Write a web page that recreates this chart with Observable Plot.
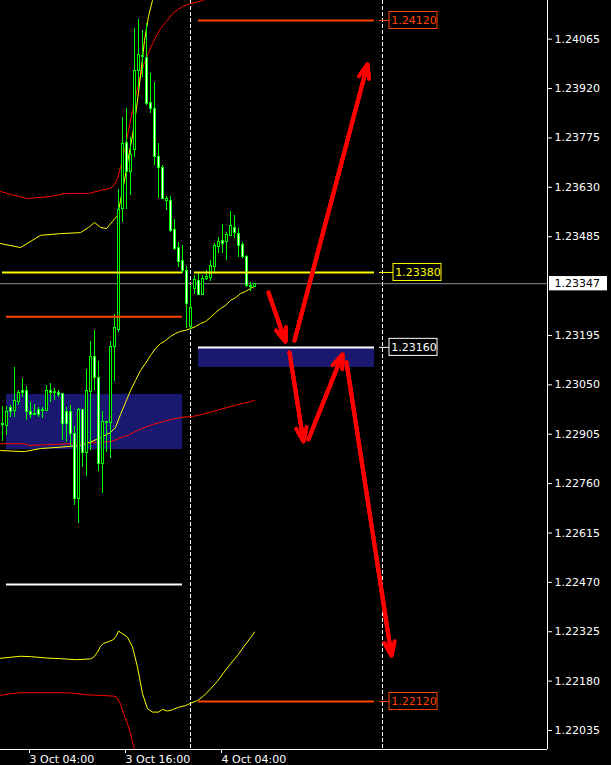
<!DOCTYPE html>
<html><head><meta charset="utf-8">
<script src="https://cdn.jsdelivr.net/npm/d3@7"></script>
<script src="https://cdn.jsdelivr.net/npm/@observablehq/plot@0.6"></script>
<style>
html,body{margin:0;padding:0;background:#000;}
#chart svg{display:block;}
</style></head><body><div id="chart"></div>
<script>
// ---- DATA (prices; times in hours since 3 Oct 00:00) ----
const barFirstHour = 0.5, barStepHour = 0.5; // M30 bars
const open = [1.22934,1.22928,1.22981,1.22972,1.23001,1.23033,1.23033,1.22969,1.22963,1.22975,
1.22975,1.22972,1.23033,1.23027,1.23027,1.23022,1.22969,1.22969,1.22907,1.22716,
1.22975,1.22851,1.23030,1.23133,1.23069,1.22819,1.22942,1.22939,1.23160,1.23210,
1.23565,1.23759,1.23676,1.23741,1.23973,1.24017,1.24011,1.23879,1.23859,1.23718,
1.23688,1.23591,1.23591,1.23506,1.23453,1.23415,1.23383,1.23221,1.23330,1.23356,
1.23315,1.23362,1.23365,1.23395,1.23456,1.23471,1.23468,1.23486,1.23512,1.23494,
1.23462,1.23424,1.23339,1.23336];
const high = [1.22986,1.22986,1.22989,1.23101,1.23033,1.23069,1.23045,1.22998,1.22992,1.22983,
1.22983,1.23048,1.23054,1.23039,1.23033,1.23025,1.22983,1.22989,1.22928,1.22981,
1.22978,1.23095,1.23177,1.23210,1.23119,1.22972,1.22942,1.23177,1.23257,1.23624,
1.23835,1.23862,1.23776,1.24096,1.24123,1.24091,1.24111,1.23964,1.23938,1.23759,
1.23694,1.23603,1.23603,1.23536,1.23468,1.23459,1.23398,1.23342,1.23371,1.23380,
1.23371,1.23386,1.23415,1.23465,1.23483,1.23521,1.23497,1.23559,1.23547,1.23509,
1.23468,1.23430,1.23350,1.23348];
const low = [1.22884,1.22901,1.22954,1.22954,1.22989,1.23013,1.22945,1.22951,1.22960,1.22954,
1.22951,1.22972,1.22998,1.23004,1.23013,1.22887,1.22881,1.22866,1.22696,1.22643,
1.22807,1.22781,1.22857,1.23033,1.22796,1.22731,1.22851,1.22834,1.23060,1.23204,
1.23527,1.23565,1.23606,1.23718,1.23914,1.23952,1.23870,1.23847,1.23694,1.23597,
1.23594,1.23562,1.23497,1.23444,1.23395,1.23377,1.23215,1.23212,1.23315,1.23312,
1.23312,1.23356,1.23353,1.23380,1.23436,1.23436,1.23415,1.23486,1.23480,1.23424,
1.23421,1.23336,1.23324,1.23336];
const close = [1.22931,1.22969,1.22969,1.23004,1.23027,1.23025,1.22969,1.22960,1.22962,1.22960,
1.22973,1.23033,1.23025,1.23028,1.23019,1.22936,1.22936,1.22907,1.22716,1.22975,
1.22851,1.23033,1.23133,1.23069,1.22819,1.22942,1.22939,1.23160,1.23218,1.23562,
1.23756,1.23674,1.23726,1.23973,1.24020,1.24014,1.23876,1.23859,1.23718,1.23688,
1.23597,1.23597,1.23503,1.23450,1.23412,1.23383,1.23286,1.23277,1.23359,1.23315,
1.23362,1.23368,1.23400,1.23459,1.23468,1.23465,1.23489,1.23515,1.23497,1.23459,
1.23424,1.23339,1.23336,1.23347];

// indicator lines: [hour, price]
const bandUpperYellow = [[0.25,1.23465],[2.75,1.23453],[5.25,1.23489],[7.75,1.23494],[10.25,1.23497],[11.25,1.23512],[12,1.23527],[12.75,1.23512],[13.5,1.23509],[14.25,1.23530],[14.875,1.23547],[15.25,1.23591],[15.75,1.23650],[16.25,1.23718],[16.75,1.23782],[17.25,1.23862],[17.75,1.23958],[18.25,1.24061],[18.75,1.24132],[19.25,1.24179],[19.75,1.24223]];
const bandUpperRed = [[0.25,1.23618],[1.5,1.23609],[3.625,1.23597],[6.5,1.23603],[8.375,1.23612],[11.25,1.23612],[12.75,1.23621],[14,1.23627],[14.5,1.23638],[14.875,1.23656],[15.25,1.23688],[15.75,1.23738],[16.25,1.23797],[16.75,1.23856],[17.25,1.23908],[17.75,1.23958],[18.25,1.23997],[18.75,1.24026],[19.25,1.24052],[19.75,1.24076],[20.25,1.24096],[20.875,1.24114],[21.875,1.24143],[23,1.24161],[24,1.24170],[24.875,1.24174],[25.5,1.24179],[26.5,1.24187]];
const maYellow = [[0.25,1.22857],[3.25,1.22854],[5.25,1.22863],[7.75,1.22867],[10.25,1.22872],[11.5,1.22882],[12.75,1.22895],[14,1.22910],[14.625,1.22925],[15.25,1.22963],[15.875,1.22998],[16.5,1.23033],[17.125,1.23063],[17.75,1.23092],[18.375,1.23113],[19,1.23136],[19.625,1.23157],[20.25,1.23171],[20.875,1.23180],[21.5,1.23192],[22.125,1.23201],[22.75,1.23207],[23.375,1.23210],[24,1.23215],[24.625,1.23221],[25.25,1.23230],[25.875,1.23236],[26.5,1.23248],[27.125,1.23262],[27.75,1.23274],[28.375,1.23283],[29,1.23298],[29.625,1.23306],[30.25,1.23318],[30.875,1.23324],[31.5,1.23333],[32,1.23339]];
const maRed = [[0.25,1.22877],[3.25,1.22877],[3.75,1.22872],[7.125,1.22875],[9.625,1.22878],[12.75,1.22881],[14,1.22884],[14.625,1.22888],[15.25,1.22895],[16.125,1.22901],[17.375,1.22916],[18.375,1.22926],[19.375,1.22934],[20.25,1.22940],[21.5,1.22948],[23,1.22955],[24.25,1.22957],[25.25,1.22962],[26.5,1.22970],[27.75,1.22978],[29,1.22986],[30.25,1.22994],[31.25,1.22999],[32,1.23004]];
const bandLowerYellow = [[0.25,1.22247],[1.5,1.22250],[2.75,1.22253],[4,1.22252],[5.875,1.22248],[7.75,1.22246],[9.625,1.22243],[11.5,1.22245],[11.875,1.22250],[12.375,1.22265],[12.75,1.22282],[13.125,1.22291],[13.75,1.22296],[14.375,1.22302],[14.75,1.22314],[15,1.22327],[15.375,1.22321],[16.125,1.22309],[16.75,1.22280],[17.375,1.22221],[18,1.22143],[18.625,1.22099],[19.25,1.22089],[20,1.22089],[20.5,1.22097],[21.125,1.22092],[21.75,1.22096],[22.5,1.22103],[23.375,1.22108],[24,1.22115],[24.875,1.22123],[25.625,1.22136],[26.5,1.22157],[27.375,1.22180],[28.125,1.22204],[29,1.22231],[29.875,1.22255],[30.625,1.22280],[31.5,1.22307],[32,1.22324]];
const bandLowerRed = [[0.25,1.22138],[1.5,1.22143],[2.75,1.22146],[7.75,1.22146],[9.25,1.22145],[10.875,1.22140],[12.75,1.22138],[14.375,1.22136],[14.75,1.22133],[15.25,1.22113],[15.625,1.22084],[16.125,1.22055],[16.5,1.22025],[16.875,1.21991],[17.25,1.21953],[17.5,1.21923]];

// drawn objects
const levelNames = ["tp1", "res", "oldres", "entry", "oldlow", "tp2", "res2"];
const levelPrices = [1.24120, 1.23380, 1.23250, 1.23160, 1.22464, 1.22120, 1.23380];
const levelFrom = [25, 0.5, 1, 25, 1, 25, 24.5];
const levelTo = [47, 23, 23, 47, 23, 47, 47];
const zoneFrom = [1, 25];
const zoneTo = [23, 47];
const zoneLow = [1.22860, 1.23101];
const zoneHigh = [1.23022, 1.23160];
const tagPrices = [1.24120, 1.23380, 1.23160, 1.22120];
const tagTexts = ["1.24120", "1.23380", "1.23160", "1.22120"];
const arrowFromH = [33.75, 37.0, 36.375, 38.75, 43.5];
const arrowFromP = [1.23321, 1.23180, 1.23145, 1.22890, 1.23116];
const arrowToH = [35.875, 46.125, 38.125, 43.0, 49.125];
const arrowToP = [1.23177, 1.23991, 1.22884, 1.23139, 1.22255];
const separatorHours = [24, 48];
const bidPrice = 1.23347;
const yTicks = [1.24065, 1.23920, 1.23775, 1.23630, 1.23485, 1.23195, 1.23050, 1.22905, 1.22760, 1.22615, 1.22470, 1.22325, 1.22180, 1.22035];
const xTickHours = [4, 16, 28];

// ---- build ----
const BASE = Date.UTC(2018, 9, 3);
const T = h => new Date(BASE + h * 3600000);
const HALF = 7.5 * 60000;
const candles = open.map((o, i) => ({date: T(barFirstHour + i * barStepHour), open: o, high: high[i], low: low[i], close: close[i]}));
const lv = levelPrices.map((p, i) => ({name: levelNames[i], price: p, from: levelFrom[i], to: levelTo[i]}));
const levelColor = {tp1: "#ff4500", res: "#ffff00", res2: "#ffff00", oldres: "#ff4500", entry: "#ffffff", oldlow: "#ffffff", tp2: "#ff4500"};
const zones = zoneFrom.map((f, i) => ({from: f, to: zoneTo[i], low: zoneLow[i], high: zoneHigh[i]}));
const tagColor = ["#ff4500", "#ffff00", "#ffffff", "#ff4500"];
const tagShift = [0, 0.5, 0, 0]; // hours
const tags = tagPrices.map((p, i) => ({price: p, text: tagTexts[i], color: tagColor[i], shift: tagShift[i]}));
const arrows = arrowFromH.map((h, i) => ({x1: T(h), y1: arrowFromP[i], x2: T(arrowToH[i]), y2: arrowToP[i]}));
const line = (d, color) => Plot.line(d, {x: p => T(p[0]), y: p => p[1], stroke: color, strokeWidth: 1, clip: true});
const arrowMark = (hl, ha) => Plot.arrow(arrows, {x1: "x1", y1: "y1", x2: "x2", y2: "y2", stroke: "#ff0000", strokeWidth: 4, headLength: hl, headAngle: ha, strokeLinejoin: "miter"});
const yDomain = [1.219792, 1.241786];
const xDomain = [T(0.25), T(68.625)];
const tagHalf = 0.00025;

const chart = Plot.plot({
  width: 611, height: 765,
  marginTop: 0, marginRight: 64, marginBottom: 16, marginLeft: 0,
  style: {background: "#000", color: "#fff", fontFamily: "'DejaVu Sans', sans-serif", fontSize: "11px", overflow: "visible"},
  x: {type: "utc", domain: xDomain, axis: null},
  y: {domain: yDomain, axis: null},
  marks: [
    Plot.rect(zones, {x1: d => T(d.from), x2: d => T(d.to), y1: "low", y2: "high", fill: "#191970"}),
    Plot.ruleX(separatorHours.map(T), {stroke: "#fff", strokeDasharray: "4,2"}),
    line(maRed, "#ff0000"),
    line(maYellow, "#ffff00"),
    line(bandUpperRed, "#ff0000"),
    line(bandUpperYellow, "#ffff00"),
    line(bandLowerYellow, "#ffff00"),
    line(bandLowerRed, "#ff0000"),
    Plot.ruleY([bidPrice], {stroke: "#8c8c8c"}),
    Plot.ruleX(candles, {x: "date", y1: "low", y2: "high", stroke: "#00ff00", shapeRendering: "crispEdges"}),
    Plot.rect(candles, {x1: d => new Date(+d.date - HALF), x2: d => new Date(+d.date + HALF), y1: "open", y2: "close",
      fill: d => d.close > d.open ? "#000" : "#fff", stroke: "#00ff00", strokeWidth: 1, shapeRendering: "crispEdges"}),
    Plot.ruleY(lv, {y: "price", x1: d => T(d.from), x2: d => T(d.to), stroke: d => levelColor[d.name], strokeWidth: 2}),
    Plot.ruleY(tags, {y: "price", x1: () => T(47.625), x2: d => T(48.875 + d.shift), stroke: d => d.color, strokeWidth: 1}),
    Plot.rect(tags, {x1: d => T(48.875 + d.shift), x2: d => T(54.875 + d.shift), y1: d => d.price - tagHalf, y2: d => d.price + tagHalf, fill: "#000", stroke: d => d.color}),
    Plot.text(tags, {x: d => T(49.1 + d.shift), y: "price", text: "text", fill: d => d.color, textAnchor: "start"}),
    arrowMark(5.5, 42),
    arrowMark(4, 42),
    arrowMark(2.5, 42),
    Plot.ruleX([xDomain[1]], {stroke: "#fff"}),
    Plot.ruleY([yDomain[0]], {stroke: "#fff"}),
    Plot.axisY({anchor: "right", ticks: yTicks, tickFormat: d => d.toFixed(5), tickSize: 4, tickPadding: 3, label: null}),
    Plot.axisX({ticks: xTickHours.map(T), tickFormat: d3.utcFormat("%-d %b %H:%M"), tickSize: 4, tickPadding: 2, textAnchor: "start", dx: -1, label: null}),
    Plot.rect([bidPrice], {x1: () => T(68.875), x2: () => T(76.125), y1: d => d - 0.00021, y2: d => d + 0.00021, fill: "#fff"}),
    Plot.text([bidPrice], {x: () => T(69.5), y: d => d, text: d => d.toFixed(5), fill: "#000", textAnchor: "start"})
  ]
});
document.getElementById("chart").append(chart);
</script></body></html>
